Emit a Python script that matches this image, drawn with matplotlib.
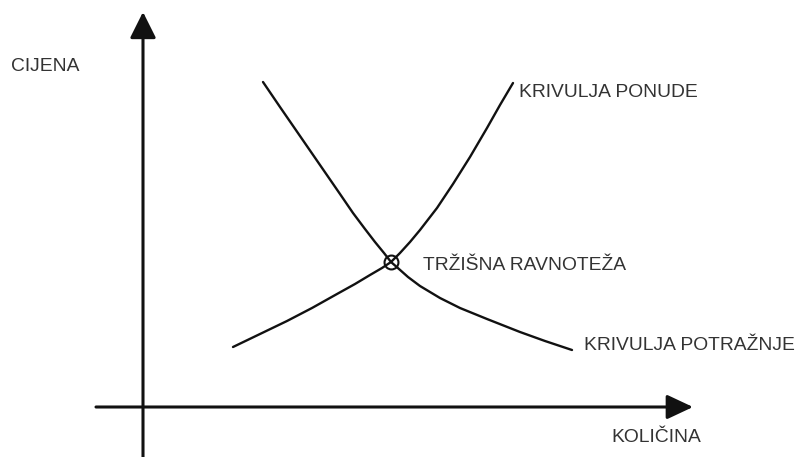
import matplotlib
matplotlib.use("Agg")
import matplotlib.pyplot as plt

# curves, in pixel coordinates (y grows downward)
supply_x = [233, 260, 287, 312, 337, 355, 370, 382, 391, 400, 410, 420, 437, 453, 470, 487, 500, 513]
supply_y = [347, 334, 321, 308, 294, 284, 275, 268, 262, 253, 242, 230, 208, 184, 157, 128, 105, 83]

demand_x = [263, 280, 300, 320, 340, 353, 365, 375, 384, 391, 399, 408, 420, 440, 460, 487, 520, 545, 572]
demand_y = [82, 107, 136, 165, 194, 213, 229, 242, 253, 262, 269, 277, 286, 298, 308, 319, 332, 341, 350]

eq_x, eq_y = 391, 262

# label text -> left edge and baseline
labels = {
    "CIJENA": (11, 71),
    "KRIVULJA PONUDE": (519, 97),
    "TRŽIŠNA RAVNOTEŽA": (423, 270),
    "KRIVULJA POTRAŽNJE": (584, 350),
    "KOLIČINA": (611, 442),
}

fig = plt.figure(figsize=(7.98, 4.57), dpi=100)
ax = fig.add_axes([0, 0, 1, 1])
ax.set_xlim(0, 798)
ax.set_ylim(457, 0)
ax.axis("off")

ink = "#111111"

# axes with arrows
ax.annotate("", xy=(143, 12), xytext=(143, 457),
            arrowprops=dict(arrowstyle="-|>,head_length=1.6,head_width=0.8",
                            lw=2.2, color=ink, shrinkA=0, shrinkB=0))
ax.annotate("", xy=(693, 407), xytext=(96, 407),
            arrowprops=dict(arrowstyle="-|>,head_length=1.6,head_width=0.75",
                            lw=2.2, color=ink, shrinkA=0, shrinkB=0))

ax.plot(supply_x, supply_y, color=ink, lw=1.7, solid_capstyle="round")
ax.plot(demand_x, demand_y, color=ink, lw=1.7, solid_capstyle="round")
ax.plot([eq_x], [eq_y], marker="o", markersize=10, markerfacecolor="none",
        markeredgecolor=ink, markeredgewidth=1.5)

for txt, (x, y) in labels.items():
    ax.text(x, y, txt, fontsize=13.9, family="Liberation Sans", color="#333333",
            ha="left", va="baseline")

fig.savefig("out.png", dpi=100)
